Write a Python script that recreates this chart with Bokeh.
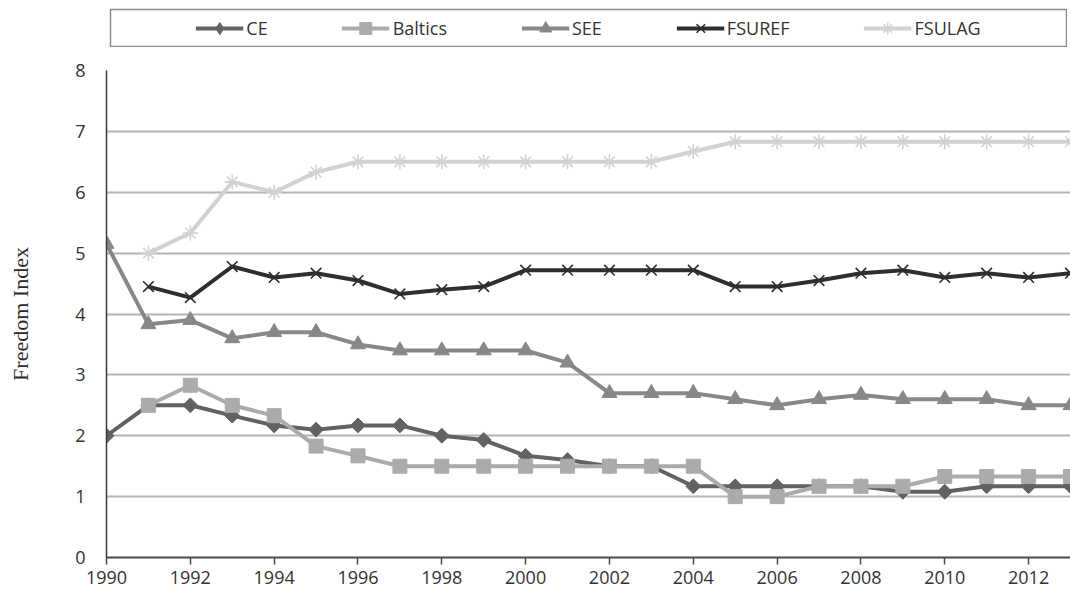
import math
from bokeh.plotting import figure
from bokeh.models import Range1d, FixedTicker, Legend, LegendItem, Spacer, ColumnDataSource
from bokeh.layouts import column, row
from bokeh.embed import file_html
from bokeh.resources import INLINE

nan = float("nan")
years = list(range(1990, 2014))
ce = [2.0, 2.5, 2.5, 2.33, 2.17, 2.1, 2.17, 2.17, 2.0, 1.93, 1.67, 1.6,
      1.5, 1.5, 1.17, 1.17, 1.17, 1.17, 1.17, 1.08, 1.08, 1.17, 1.17, 1.17]
baltics = [nan, 2.5, 2.83, 2.5, 2.33, 1.83, 1.67, 1.5, 1.5, 1.5, 1.5, 1.5,
           1.5, 1.5, 1.5, 1.0, 1.0, 1.17, 1.17, 1.17, 1.33, 1.33, 1.33, 1.33]
see = [5.15, 3.83, 3.9, 3.6, 3.7, 3.7, 3.5, 3.4, 3.4, 3.4, 3.4, 3.2,
       2.7, 2.7, 2.7, 2.6, 2.5, 2.6, 2.67, 2.6, 2.6, 2.6, 2.5, 2.5]
fsuref = [nan, 4.45, 4.27, 4.78, 4.6, 4.67, 4.55, 4.33, 4.4, 4.45, 4.72, 4.72,
          4.72, 4.72, 4.72, 4.45, 4.45, 4.55, 4.67, 4.72, 4.6, 4.67, 4.6, 4.67]
fsulag = [nan, 5.0, 5.33, 6.17, 6.0, 6.33, 6.5, 6.5, 6.5, 6.5, 6.5, 6.5,
          6.5, 6.5, 6.67, 6.83, 6.83, 6.83, 6.83, 6.83, 6.83, 6.83, 6.83, 6.83]
x_ticks = list(range(1990, 2013, 2))
y_ticks = list(range(0, 9))

# name, values, colour, plot marker, size, angle, marker line width, legend marker
series = [
    ("CE", ce, "#626262", "square", 10.5, math.pi / 4, 1, "diamond"),
    ("Baltics", baltics, "#ababab", "square", 14, 0, 1, "square"),
    ("SEE", see, "#888888", "triangle", 15, 0, 1, "triangle"),
    ("FSUREF", fsuref, "#2e2e2e", "x", 15, 0, 1.6, "x"),
    ("FSULAG", fsulag, "#d2d2d2", "asterisk", 15, 0, 1.6, "asterisk"),
]

TICK_FONT = "Open Sans"


def add_series(fig, src, color, marker, size, angle, lw):
    lr = fig.line("x", "y", source=src, line_color=color, line_width=4)
    sr = fig.scatter("x", "y", source=src, marker=marker, size=size, angle=angle,
                     fill_color=color, line_color=color, line_width=lw)
    return lr, sr


p = figure(width=1070, height=552, x_range=Range1d(1990, 2013), y_range=Range1d(0, 8),
           output_backend="svg", toolbar_location=None,
           min_border_left=106, min_border_right=0, min_border_top=23, min_border_bottom=42)
p.outline_line_color = None
p.background_fill_color = "white"
p.border_fill_color = "white"

p.xgrid.visible = False
p.ygrid.ticker = FixedTicker(ticks=[1, 2, 3, 4, 5, 6, 7])
p.ygrid.grid_line_color = "#b4b4b4"
p.ygrid.grid_line_width = 2

p.xaxis.ticker = FixedTicker(ticks=x_ticks)
p.xaxis.major_tick_out = 7
p.xaxis.major_tick_in = 0
p.xaxis.minor_tick_line_color = None
p.xaxis.axis_line_color = "#4a4a4a"
p.xaxis.axis_line_width = 2
p.xaxis.major_tick_line_color = "#4a4a4a"
p.xaxis.major_tick_line_width = 1.5
p.xaxis.major_label_text_font = TICK_FONT
p.xaxis.major_label_text_font_size = "18px"
p.xaxis.major_label_text_color = "#333333"
p.xaxis.major_label_standoff = 6

p.yaxis.ticker = FixedTicker(ticks=y_ticks)
p.yaxis.major_tick_out = 0
p.yaxis.major_tick_in = 0
p.yaxis.minor_tick_line_color = None
p.yaxis.axis_line_color = "#3a3a3a"
p.yaxis.axis_line_width = 1.5
p.yaxis.major_label_text_font = TICK_FONT
p.yaxis.major_label_text_font_size = "18px"
p.yaxis.major_label_text_color = "#333333"
p.yaxis.major_label_standoff = 21
p.yaxis.axis_label = "Freedom Index"
p.yaxis.axis_label_text_font = "Liberation Serif"
p.yaxis.axis_label_text_font_style = "normal"
p.yaxis.axis_label_text_font_size = "22px"
p.yaxis.axis_label_text_color = "#2a2a2a"
p.yaxis.axis_label_standoff = 39

for name, vals, color, marker, size, angle, lw, lmarker in series:
    add_series(p, ColumnDataSource(dict(x=years, y=vals)), color, marker, size, angle, lw)

# legend strip: same series drawn outside its (0..1) ranges, only the legend shows
lf = figure(width=958, height=39, x_range=Range1d(0, 1), y_range=Range1d(0, 1),
            output_backend="svg", toolbar_location=None,
            min_border_left=1, min_border_right=1, min_border_top=1, min_border_bottom=1)
lf.axis.visible = False
lf.grid.visible = False
lf.outline_line_color = "#8c8c8c"
lf.outline_line_width = 1.5
items = []
for name, vals, color, marker, size, angle, lw, lmarker in series:
    lr, sr = add_series(lf, ColumnDataSource(dict(x=years, y=vals)), color, lmarker, size, 0, lw)
    items.append(LegendItem(label=name, renderers=[lr, sr]))
leg = Legend(items=items, orientation="horizontal", location="center",
             glyph_width=48, glyph_height=30, label_standoff=3, spacing=74,
             padding=0, margin=0, border_line_color=None, background_fill_alpha=0,
             label_text_font=TICK_FONT, label_text_font_size="18px",
             label_text_color="#333333")
lf.add_layout(leg, "center")

layout = column(Spacer(width=10, height=8), row(Spacer(width=109, height=39), lf), p)
open("out.html", "w").write(file_html(layout, INLINE))
